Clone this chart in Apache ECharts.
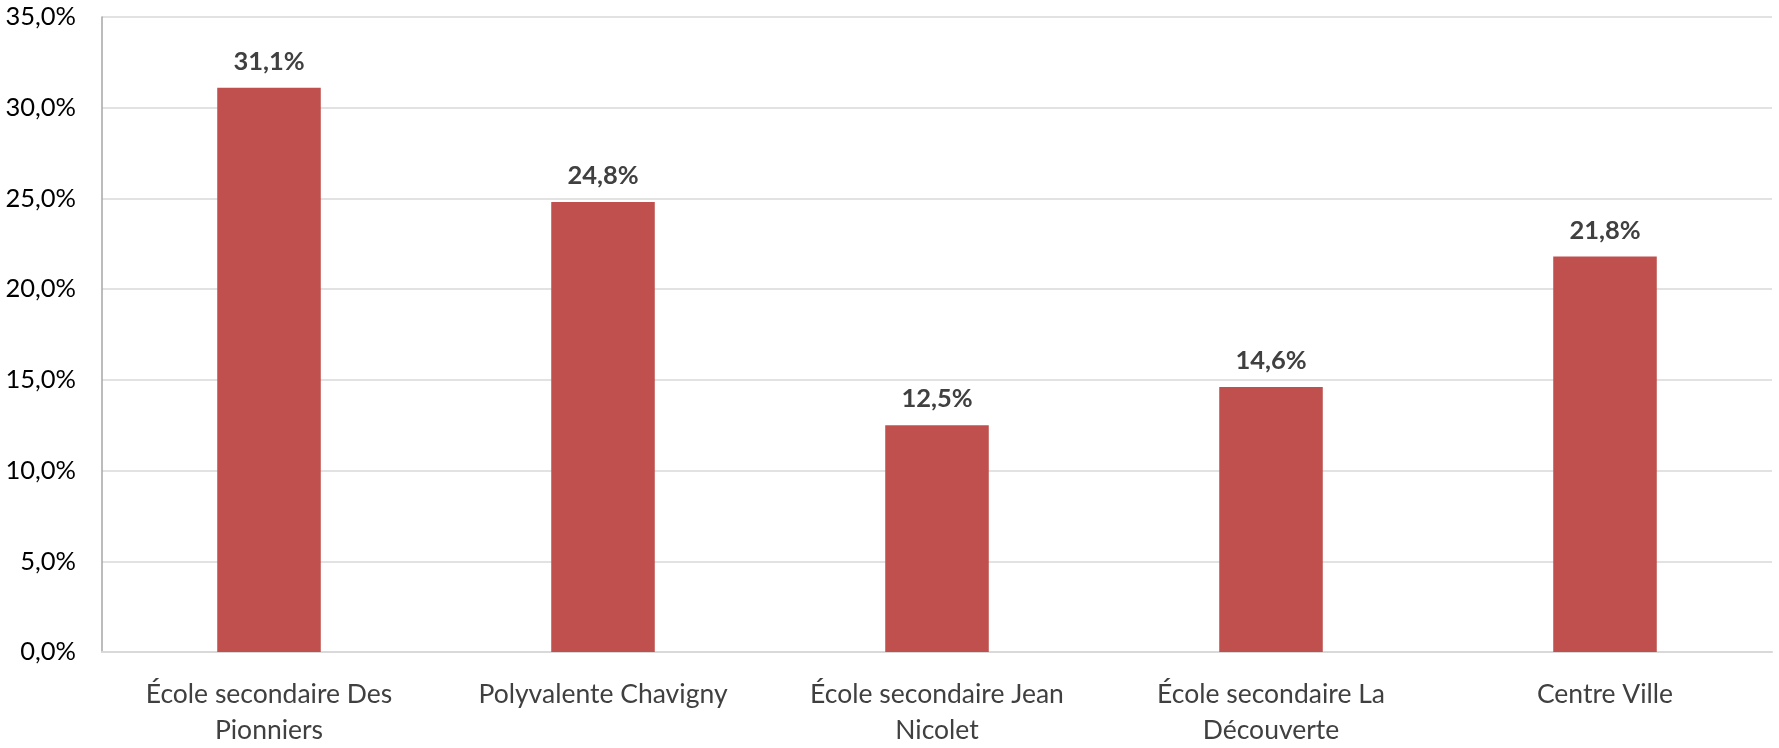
<!DOCTYPE html>
<html><head><meta charset="utf-8">
<script src="https://cdn.jsdelivr.net/npm/echarts@6/dist/echarts.min.js"></script>
<style>html,body{margin:0;padding:0;background:#fff}#c{width:1779px;height:748px}</style>
</head><body><div id="c"></div>
<script>
const categories = ["École secondaire Des\nPionniers", "Polyvalente Chavigny", "École secondaire Jean\nNicolet", "École secondaire La\nDécouverte", "Centre Ville"];
const values = [31.1, 24.8, 12.5, 14.6, 21.8];
const yTicks = { min: 0, max: 35, interval: 5 };
const fmt = v => v.toFixed(1).replace('.', ',') + '%';
const FONT = 'Lato';
const chart = echarts.init(document.getElementById('c'), null, {renderer: 'canvas'});
chart.setOption({
  animation: false,
  backgroundColor: '#fff',
  grid: {left: 102, right: 7, top: 17, bottom: 90, containLabel: false},
  xAxis: {
    type: 'category', data: categories,
    axisLine: {lineStyle: {color: '#d9d9d9', width: 2}},
    axisTick: {show: false},
    axisLabel: {color: '#404040', fontFamily: FONT, fontSize: 26.5, lineHeight: 36, margin: 24, interval: 0}
  },
  yAxis: {
    type: 'value', min: yTicks.min, max: yTicks.max, interval: yTicks.interval,
    axisLine: {show: true, lineStyle: {color: '#a6a6a6', width: 1.5}},
    axisTick: {show: false},
    splitLine: {lineStyle: {color: '#d9d9d9', width: 1.5}},
    axisLabel: {color: '#000', fontFamily: FONT, fontSize: 25.5, margin: 26, formatter: fmt}
  },
  series: [{
    type: 'bar', data: values, barWidth: '31%',
    itemStyle: {color: '#C0504D'},
    label: {show: true, position: 'top', distance: 13, color: '#404040', fontFamily: FONT, fontWeight: 'bold', fontSize: 25.5, formatter: p => fmt(p.value)}
  }]
});
</script></body></html>
